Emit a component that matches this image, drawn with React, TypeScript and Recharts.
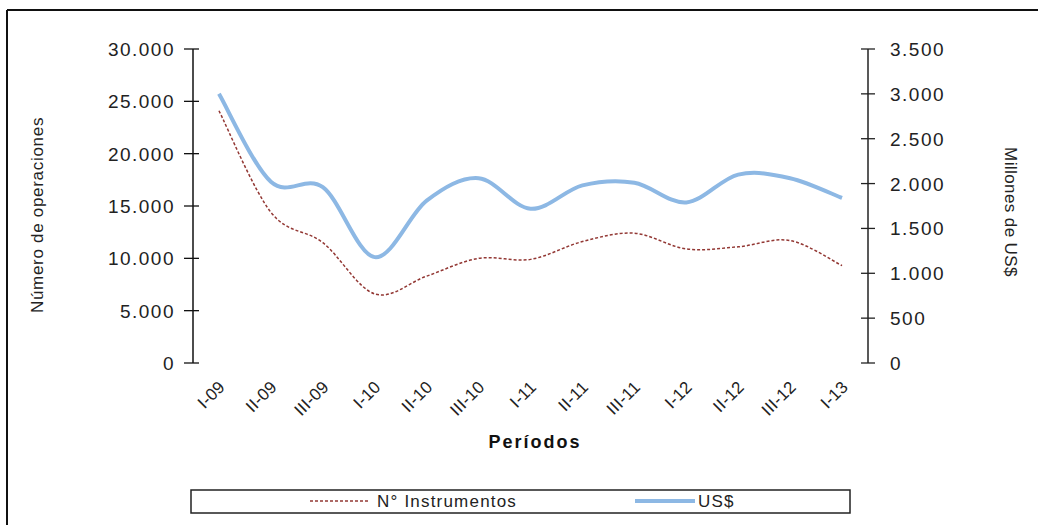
import React from 'react';
import { LineChart, Line, XAxis, YAxis, Customized } from 'recharts';

// periods (semesters/trimesters) on the x axis
const periods = ['I-09', 'II-09', 'III-09', 'I-10', 'II-10', 'III-10', 'I-11', 'II-11', 'III-11', 'I-12', 'II-12', 'III-12', 'I-13'];
// N° Instrumentos (left axis)
const instrumentos = [24100, 14400, 11500, 6600, 8300, 10000, 9900, 11600, 12400, 10900, 11100, 11700, 9300];
// Millones de US$ (right axis)
const usd = [3000, 2020, 1960, 1180, 1810, 2060, 1720, 1980, 2010, 1790, 2100, 2060, 1840];

const leftTicks = [0, 5000, 10000, 15000, 20000, 25000, 30000];
const rightTicks = [0, 500, 1000, 1500, 2000, 2500, 3000, 3500];

const seriesNames = { ops: 'N° Instrumentos', usd: 'US$' };
const RED = '#933834';
const BLUE = '#8db8e4';
const FONT = '"Liberation Sans", Arial, sans-serif';

const data = periods.map((p, i) => ({ idx: i, period: p, ops: instrumentos[i], usd: usd[i] }));
const boundaryTicks = [...periods.map((_, i) => i - 0.5), periods.length - 0.5];
const centerTicks = periods.map((_, i) => i);

const fmt = (n: number) => String(n).replace(/\B(?=(\d{3})+(?!\d))/g, '.');

// Excel-like smoothed line (Catmull-Rom through the points)
const excelSmooth = (context: any) => {
  let pts: number[][] = [];
  return {
    areaStart() {},
    areaEnd() {},
    lineStart() {
      pts = [];
    },
    point(x: number, y: number) {
      pts.push([+x, +y]);
    },
    lineEnd() {
      const n = pts.length;
      if (!n) return;
      context.moveTo(pts[0][0], pts[0][1]);
      for (let i = 0; i < n - 1; i++) {
        const p0 = pts[i > 0 ? i - 1 : i];
        const p1 = pts[i];
        const p2 = pts[i + 1];
        const p3 = pts[i + 2 < n ? i + 2 : i + 1];
        context.bezierCurveTo(
          p1[0] + (p2[0] - p0[0]) / 6,
          p1[1] + (p2[1] - p0[1]) / 6,
          p2[0] - (p3[0] - p1[0]) / 6,
          p2[1] - (p3[1] - p1[1]) / 6,
          p2[0],
          p2[1]
        );
      }
    },
  };
};

const LeftTick = (props: any) => {
  const { x, y, payload } = props;
  return (
    <g>
      <line x1={x - 9} x2={x + 6} y1={y} y2={y} stroke="#111" strokeWidth={1.3} />
      <text x={x - 18} y={y + 7} textAnchor="end" fontSize={19} letterSpacing={1.5} fill="#222" fontFamily={FONT}>
        {fmt(payload.value)}
      </text>
    </g>
  );
};

const RightTick = (props: any) => {
  const { x, y, payload } = props;
  return (
    <g>
      <line x1={x - 7} x2={x + 7} y1={y} y2={y} stroke="#222" strokeWidth={1.3} />
      <text x={x + 22} y={y + 7} textAnchor="start" fontSize={19} letterSpacing={1.5} fill="#222" fontFamily={FONT}>
        {fmt(payload.value)}
      </text>
    </g>
  );
};

const BoundaryTick = (props: any) => {
  const { x, y } = props;
  return <line x1={x} x2={x} y1={y - 6} y2={y + 7} stroke="#666" strokeWidth={1.2} />;
};

const PeriodTick = (props: any) => {
  const { x, y, payload } = props;
  const ax = x + 7;
  const ay = y + 25;
  return (
    <text
      x={ax}
      y={ay}
      textAnchor="end"
      fontSize={17}
      letterSpacing={0.3}
      fill="#222"
      fontFamily={FONT}
      transform={`rotate(-45 ${ax} ${ay})`}
    >
      {periods[payload.value]}
    </text>
  );
};

const Decorations = () => (
  <g fontFamily={FONT} fill="#222">
    <line x1={7} y1={10} x2={1038} y2={10} stroke="#111" strokeWidth={2} />
    <line x1={7} y1={10} x2={7} y2={525} stroke="#111" strokeWidth={2} />
    <text x={43} y={215} textAnchor="middle" fontSize={17} letterSpacing={0.7} transform="rotate(-90 43 215)">
      Número de operaciones
    </text>
    <text x={1005} y={212} textAnchor="middle" fontSize={17} letterSpacing={0.4} transform="rotate(90 1005 212)">
      Millones de US$
    </text>
    <text x={535} y={448} textAnchor="middle" fontSize={18} fontWeight="bold" letterSpacing={2} fill="#111">
      Períodos
    </text>
    <rect x={191} y={490} width={659} height={23} fill="none" stroke="#222" strokeWidth={1.5} />
    <line x1={310} x2={370} y1={501} y2={501} stroke={RED} strokeWidth={1.3} strokeDasharray="3 2" />
    <text x={377} y={507} fontSize={17} letterSpacing={1.2}>
      {seriesNames.ops}
    </text>
    <line x1={635} x2={695} y1={501} y2={501} stroke={BLUE} strokeWidth={4} />
    <text x={698} y={507} fontSize={17} letterSpacing={1.2}>
      {seriesNames.usd}
    </text>
  </g>
);

export default function App() {
  return (
    <div style={{ position: 'absolute', left: 0, top: 0, width: 1038, height: 525, background: '#fff' }}>
      <LineChart width={1038} height={525} data={data} margin={{ top: 49, right: 0, bottom: 62, left: 0 }}>
        <XAxis
          xAxisId="grid"
          type="number"
          dataKey="idx"
          domain={[-0.5, periods.length - 0.5]}
          ticks={boundaryTicks}
          interval={0}
          height={0}
          tickSize={0}
          tickMargin={0}
          tickLine={false}
          axisLine={{ stroke: '#9a9a9a', strokeWidth: 1.5 }}
          tick={<BoundaryTick />}
        />
        <XAxis
          xAxisId="lbl"
          type="number"
          dataKey="idx"
          domain={[-0.5, periods.length - 0.5]}
          ticks={centerTicks}
          interval={0}
          height={100}
          tickSize={0}
          tickMargin={0}
          tickLine={false}
          axisLine={false}
          tick={<PeriodTick />}
        />
        <YAxis
          yAxisId="left"
          orientation="left"
          width={193}
          domain={[0, 30000]}
          ticks={leftTicks}
          interval={0}
          tickSize={0}
          tickMargin={0}
          tickLine={false}
          axisLine={{ stroke: '#111', strokeWidth: 1.5 }}
          tick={<LeftTick />}
        />
        <YAxis
          yAxisId="right"
          orientation="right"
          width={170}
          domain={[0, 3500]}
          ticks={rightTicks}
          interval={0}
          tickSize={0}
          tickMargin={0}
          tickLine={false}
          axisLine={{ stroke: '#222', strokeWidth: 1.5 }}
          tick={<RightTick />}
        />
        <Line
          xAxisId="lbl"
          yAxisId="right"
          dataKey="usd"
          name={seriesNames.usd}
          type={excelSmooth as any}
          stroke={BLUE}
          strokeWidth={4}
          dot={false}
          activeDot={false}
          isAnimationActive={false}
        />
        <Line
          xAxisId="lbl"
          yAxisId="left"
          dataKey="ops"
          name={seriesNames.ops}
          type={excelSmooth as any}
          stroke={RED}
          strokeWidth={1.5}
          strokeDasharray="3 2"
          dot={false}
          activeDot={false}
          isAnimationActive={false}
        />
        <Customized component={Decorations} />
      </LineChart>
    </div>
  );
}
